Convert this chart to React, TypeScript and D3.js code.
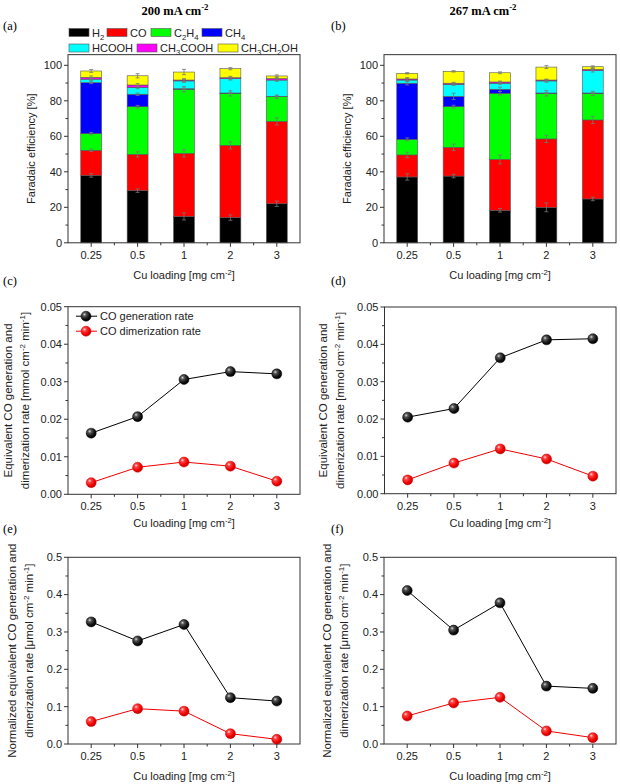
import React from "react";
import * as d3 from "d3";

const W = 620;
const H = 784;
const SANS = "'Liberation Sans', Arial, sans-serif";
const SERIF = "'Liberation Serif', 'Times New Roman', serif";

const categories = ["0.25", "0.5", "1", "2", "3"];
const productKeys = ["H2", "CO", "C2H4", "CH4", "HCOOH", "CH3COOH", "CH3CH2OH"];
const productLabels = ["H_2", "CO", "C_2H_4", "CH_4", "HCOOH", "CH_3COOH", "CH_3CH_2OH"];
const productColors = ["#000000", "#ff0000", "#00ff00", "#0000ff", "#00ffff", "#ff00ff", "#ffff00"];

// (a) 200 mA cm-2 : Faradaic efficiency [%] per product
const aH2 = [38.0, 29.4, 14.9, 14.2, 22.0];
const aCO = [14.1, 20.4, 35.5, 40.7, 46.4];
const aC2H4 = [9.4, 26.9, 36.1, 29.3, 13.9];
const aCH4 = [28.7, 7.0, 0.3, 0.2, 0.2];
const aHCOOH = [2.0, 3.9, 4.4, 8.1, 9.2];
const aCH3COOH = [1.0, 1.3, 0.5, 0.5, 0.8];
const aEtOH = [3.6, 5.2, 4.5, 5.1, 1.5];
const aErr = [
  [1.0, 1.0, 2.0, 1.5, 1.5],
  [0.7, 1.5, 2.0, 2.0, 2.0],
  [0.7, 0.7, 1.5, 1.5, 1.0],
  [0.5, 0.7, 0.3, 0.3, 0.3],
  [0.8, 0.8, 0.8, 0.8, 0.8],
  [0.8, 0.8, 0.8, 0.8, 0.8],
  [0.8, 1.2, 1.5, 0.6, 0.6],
];

// (b) 267 mA cm-2
const bH2 = [37.1, 37.6, 18.3, 20.0, 24.7];
const bCO = [12.4, 16.2, 28.7, 38.5, 44.5];
const bC2H4 = [8.8, 22.9, 37.2, 25.7, 15.0];
const bCH4 = [31.6, 5.8, 2.3, 0.2, 0.2];
const bHCOOH = [1.8, 6.8, 3.4, 6.8, 12.6];
const bCH3COOH = [0.6, 0.6, 0.7, 0.5, 0.7];
const bEtOH = [3.2, 6.7, 5.2, 7.3, 1.5];
const bErr = [
  [1.8, 1.0, 1.0, 2.5, 1.0],
  [1.5, 1.8, 2.5, 2.0, 2.0],
  [0.8, 0.8, 1.0, 1.5, 1.2],
  [1.0, 1.8, 1.2, 0.3, 0.3],
  [0.8, 0.6, 0.6, 0.8, 0.8],
  [0.8, 0.5, 0.5, 0.5, 0.5],
  [0.4, 0.4, 0.5, 0.8, 0.5],
];

// (c)/(d) equivalent CO generation / dimerization rate [mmol cm-2 min-1]
const cGen = [0.0163, 0.0207, 0.0306, 0.0327, 0.0321];
const cDim = [0.0031, 0.0072, 0.0086, 0.0075, 0.0035];
const dGen = [0.0205, 0.0228, 0.0364, 0.0412, 0.0415];
const dDim = [0.0037, 0.0082, 0.0120, 0.0093, 0.0047];

// (e)/(f) normalized rates [µmol cm-2 min-1]
const eGen = [0.327, 0.276, 0.320, 0.124, 0.115];
const eDim = [0.060, 0.0946, 0.088, 0.0277, 0.0125];
const fGen = [0.411, 0.305, 0.378, 0.155, 0.149];
const fDim = [0.075, 0.110, 0.125, 0.035, 0.017];

type Tok = { t: string; k: "n" | "sub" | "sup" };
function parseRich(s: string): Tok[] {
  const out: Tok[] = [];
  let buf = "";
  let i = 0;
  while (i < s.length) {
    const c = s[i];
    if (c === "_" || c === "^") {
      if (buf) { out.push({ t: buf, k: "n" }); buf = ""; }
      let g = "";
      if (s[i + 1] === "{") {
        const j = s.indexOf("}", i + 2);
        g = s.slice(i + 2, j);
        i = j + 1;
      } else {
        g = s[i + 1];
        i += 2;
      }
      out.push({ t: g, k: c === "_" ? "sub" : "sup" });
    } else {
      buf += c;
      i++;
    }
  }
  if (buf) out.push({ t: buf, k: "n" });
  return out;
}

function Rich({ s, fs }: { s: string; fs: number }) {
  const toks = parseRich(s);
  let cur = 0;
  return (
    <>
      {toks.map((tk, i) => {
        const target = tk.k === "sub" ? fs * 0.3 : tk.k === "sup" ? -fs * 0.38 : 0;
        const dy = target - cur;
        cur = target;
        return (
          <tspan key={i} dy={dy} fontSize={tk.k === "n" ? fs : fs * 0.7}>
            {tk.t}
          </tspan>
        );
      })}
    </>
  );
}

const AXIS = "#333";
const TXT = "#222";

function xScaleFor(x0: number, x1: number) {
  return d3.scalePoint<string>().domain(categories).range([x0, x1]).padding(0.5);
}

function XAxis({ x, yAxis }: { x: d3.ScalePoint<string>; yAxis: number }) {
  const step = x.step();
  const minors = categories.slice(0, -1).map((c) => (x(c) as number) + step / 2);
  return (
    <g>
      {categories.map((c) => (
        <g key={c}>
          <line x1={x(c)} x2={x(c)} y1={yAxis} y2={yAxis + 4} stroke={AXIS} />
          <text x={x(c)} y={yAxis + 16} textAnchor="middle" fontSize={11} fill={TXT} fontFamily={SANS}>
            {c}
          </text>
        </g>
      ))}
      {minors.map((m, i) => (
        <line key={i} x1={m} x2={m} y1={yAxis} y2={yAxis + 2.5} stroke={AXIS} />
      ))}
    </g>
  );
}

function YAxis({ y, xAxis, fmt, minors }: { y: d3.ScaleLinear<number, number>; xAxis: number; fmt: (v: number) => string; minors: number[] }) {
  return (
    <g>
      {y.ticks(5).map((t) => (
        <g key={t}>
          <line x1={xAxis - 4} x2={xAxis} y1={y(t)} y2={y(t)} stroke={AXIS} />
          <text x={xAxis - 6} y={y(t)} dy="0.35em" textAnchor="end" fontSize={11} fill={TXT} fontFamily={SANS}>
            {fmt(t)}
          </text>
        </g>
      ))}
      {minors.map((m) => (
        <line key={m} x1={xAxis - 2.5} x2={xAxis} y1={y(m)} y2={y(m)} stroke={AXIS} />
      ))}
    </g>
  );
}

function BarPanel({ x0, x1, series, errs, ylabX }: { x0: number; x1: number; series: number[][]; errs: number[][]; ylabX: number }) {
  const x = xScaleFor(x0, x1);
  const y = d3.scaleLinear().domain([0, 100]).range([242.8, 65.3]);
  const yTop = y(106);
  const table = categories.map((c, i) => {
    const row: any = { cat: c };
    productKeys.forEach((k, j) => (row[k] = series[j][i]));
    return row;
  });
  const stacked = d3.stack<any>().keys(productKeys)(table);
  const bw = x.step() * 0.45;
  return (
    <g>
      {stacked.map((layer, j) => (
        <g key={layer.key}>
          {layer.map((d, i) => (
            <rect
              key={i}
              x={(x(categories[i]) as number) - bw / 2}
              y={y(d[1])}
              width={bw}
              height={Math.max(0, y(d[0]) - y(d[1]))}
              fill={productColors[j]}
              stroke="#555"
              strokeWidth={0.6}
            />
          ))}
        </g>
      ))}
      {stacked.map((layer, j) => (
        <g key={"e" + layer.key}>
          {layer.map((d, i) => {
            const cx = x(categories[i]) as number;
            const e = errs[j][i];
            const ya = y(d[1] - e);
            const yb = y(d[1] + e);
            return (
              <g key={i} stroke="#777" strokeWidth={0.8}>
                <line x1={cx} x2={cx} y1={ya} y2={yb} />
                <line x1={cx - 2} x2={cx + 2} y1={ya} y2={ya} />
                <line x1={cx - 2} x2={cx + 2} y1={yb} y2={yb} />
              </g>
            );
          })}
        </g>
      ))}
      <rect x={x0} y={yTop} width={x1 - x0} height={y(0) - yTop} fill="none" stroke={AXIS} strokeWidth={1} />
      <XAxis x={x} yAxis={y(0)} />
      <YAxis y={y} xAxis={x0} fmt={d3.format("d")} minors={d3.range(10, 100, 20)} />
      <text transform={`translate(${ylabX},${(y(0) + yTop) / 2}) rotate(-90)`} textAnchor="middle" dy="0.35em" fontSize={11} fill={TXT} fontFamily={SANS}>
        Faradaic efficiency [%]
      </text>
      <text x={(x0 + x1) / 2} y={279} textAnchor="middle" fontSize={11} fill={TXT} fontFamily={SANS}>
        <Rich s="Cu loading [mg cm^{-2}]" fs={11} />
      </text>
    </g>
  );
}

function Sphere({ cx, cy, fill }: { cx: number; cy: number; fill: string }) {
  return <circle cx={cx} cy={cy} r={5} fill={`url(#${fill})`} stroke={fill === "gBlack" ? "#000" : "#c00"} strokeWidth={0.5} />;
}

function LinePanel({
  x0, x1, yTop, yZero, yMax, gen, dim, fmt, minorStep, ylab1, ylab2, labX1, labX2, xlabY, legend,
}: {
  x0: number; x1: number; yTop: number; yZero: number; yMax: number; gen: number[]; dim: number[];
  fmt: (v: number) => string; minorStep: number; ylab1: string; ylab2: string; labX1: number; labX2: number; xlabY: number; legend?: boolean;
}) {
  const x = xScaleFor(x0, x1);
  const y = d3.scaleLinear().domain([0, yMax]).range([yZero, yTop]);
  const line = d3.line<number>().x((_, i) => x(categories[i]) as number).y((v) => y(v));
  const minors = d3.range(minorStep, yMax, minorStep * 2);
  const cy = (yZero + yTop) / 2;
  return (
    <g>
      <rect x={x0} y={yTop} width={x1 - x0} height={yZero - yTop} fill="none" stroke={AXIS} strokeWidth={1} />
      <path d={line(gen) as string} fill="none" stroke="#000" strokeWidth={1} />
      <path d={line(dim) as string} fill="none" stroke="#e00" strokeWidth={1} />
      {gen.map((v, i) => <Sphere key={"g" + i} cx={x(categories[i]) as number} cy={y(v)} fill="gBlack" />)}
      {dim.map((v, i) => <Sphere key={"d" + i} cx={x(categories[i]) as number} cy={y(v)} fill="gRed" />)}
      <XAxis x={x} yAxis={yZero} />
      <YAxis y={y} xAxis={x0} fmt={fmt} minors={minors} />
      <text transform={`translate(${labX1},${cy}) rotate(-90)`} textAnchor="middle" dy="0.35em" fontSize={11.5} fill={TXT} fontFamily={SANS}>
        <Rich s={ylab1} fs={11.5} />
      </text>
      <text transform={`translate(${labX2},${cy}) rotate(-90)`} textAnchor="middle" dy="0.35em" fontSize={11.5} fill={TXT} fontFamily={SANS}>
        <Rich s={ylab2} fs={11.5} />
      </text>
      <text x={(x0 + x1) / 2} y={xlabY} textAnchor="middle" fontSize={11} fill={TXT} fontFamily={SANS}>
        <Rich s="Cu loading [mg cm^{-2}]" fs={11} />
      </text>
      {legend && (
        <g fontFamily={SANS} fontSize={11} fill={TXT}>
          <line x1={x0 + 8} x2={x0 + 29} y1={yTop + 9.5} y2={yTop + 9.5} stroke="#000" />
          <Sphere cx={x0 + 18} cy={yTop + 9.5} fill="gBlack" />
          <text x={x0 + 32} y={yTop + 9.5} dy="0.35em">CO generation rate</text>
          <line x1={x0 + 8} x2={x0 + 29} y1={yTop + 24.5} y2={yTop + 24.5} stroke="#e00" />
          <Sphere cx={x0 + 18} cy={yTop + 24.5} fill="gRed" />
          <text x={x0 + 32} y={yTop + 24.5} dy="0.35em">CO dimerization rate</text>
        </g>
      )}
    </g>
  );
}

const legendRow1 = [0, 1, 2, 3];
const legendRow2 = [4, 5, 6];
const legendX1 = [69, 107, 151, 202];
const legendX2 = [69, 137, 218];

export default function App() {
  const aSeries = [aH2, aCO, aC2H4, aCH4, aHCOOH, aCH3COOH, aEtOH];
  const bSeries = [bH2, bCO, bC2H4, bCH4, bHCOOH, bCH3COOH, bEtOH];
  const f2 = d3.format(".2f");
  const f1 = d3.format(".1f");
  return (
    <svg width={W} height={H} style={{ position: "absolute", left: 0, top: 0, background: "#fff" }}>
      <defs>
        <radialGradient id="gBlack" cx="35%" cy="32%" r="70%">
          <stop offset="0%" stopColor="#d8d8d8" />
          <stop offset="25%" stopColor="#555" />
          <stop offset="70%" stopColor="#111" />
          <stop offset="100%" stopColor="#000" />
        </radialGradient>
        <radialGradient id="gRed" cx="35%" cy="32%" r="70%">
          <stop offset="0%" stopColor="#ffe0e0" />
          <stop offset="25%" stopColor="#ff4040" />
          <stop offset="70%" stopColor="#f00000" />
          <stop offset="100%" stopColor="#c00000" />
        </radialGradient>
      </defs>
      <rect width={W} height={H} fill="#fff" />

      {/* titles */}
      <text x={175} y={15} textAnchor="middle" fontFamily={SERIF} fontWeight="bold" fontSize={12.5} fill="#000">
        <Rich s="200 mA cm^{-2}" fs={12.5} />
      </text>
      <text x={483} y={15} textAnchor="middle" fontFamily={SERIF} fontWeight="bold" fontSize={12.5} fill="#000">
        <Rich s="267 mA cm^{-2}" fs={12.5} />
      </text>

      {/* panel letters */}
      {[
        ["(a)", 3, 30], ["(b)", 331, 30], ["(c)", 3, 285], ["(d)", 331, 285], ["(e)", 3, 533], ["(f)", 331, 533],
      ].map(([t, px, py]) => (
        <text key={t as string} x={px as number} y={py as number} fontFamily={SERIF} fontSize={12.5} fill="#000">
          {t}
        </text>
      ))}

      {/* legend (a) */}
      <g fontFamily={SANS} fontSize={11} fill={TXT}>
        {legendRow1.map((k, i) => (
          <g key={k}>
            <rect x={legendX1[i]} y={28.5} width={20} height={8} fill={productColors[k]} stroke="#555" strokeWidth={0.6} />
            <text x={legendX1[i] + 23} y={36.5}>
              <Rich s={productLabels[k]} fs={11} />
            </text>
          </g>
        ))}
        {legendRow2.map((k, i) => (
          <g key={k}>
            <rect x={legendX2[i]} y={44} width={20} height={8} fill={productColors[k]} stroke="#555" strokeWidth={0.6} />
            <text x={legendX2[i] + 23} y={52}>
              <Rich s={productLabels[k]} fs={11} />
            </text>
          </g>
        ))}
      </g>

      <BarPanel x0={68} x1={300} series={aSeries} errs={aErr} ylabX={31} />
      <BarPanel x0={384} x1={616} series={bSeries} errs={bErr} ylabX={347} />

      <LinePanel
        x0={68} x1={300} yTop={306.7} yZero={494.3} yMax={0.05} gen={cGen} dim={cDim} fmt={f2} minorStep={0.005}
        ylab1="Equivalent CO generation and" ylab2="dimerization rate [mmol cm^{-2} min^{-1}]" labX1={12} labX2={29} xlabY={527} legend
      />
      <LinePanel
        x0={384.5} x1={616} yTop={307} yZero={493.7} yMax={0.05} gen={dGen} dim={dDim} fmt={f2} minorStep={0.005}
        ylab1="Equivalent CO generation and" ylab2="dimerization rate [mmol cm^{-2} min^{-1}]" labX1={327} labX2={344} xlabY={527}
      />
      <LinePanel
        x0={68} x1={300} yTop={557.3} yZero={744} yMax={0.5} gen={eGen} dim={eDim} fmt={f1} minorStep={0.05}
        ylab1="Normalized equivalent CO generation and" ylab2="dimerization rate [μmol cm^{-2} min^{-1}]" labX1={16} labX2={33} xlabY={780}
      />
      <LinePanel
        x0={384} x1={616} yTop={557.3} yZero={744} yMax={0.5} gen={fGen} dim={fDim} fmt={f1} minorStep={0.05}
        ylab1="Normalized equivalent CO generation and" ylab2="dimerization rate [μmol cm^{-2} min^{-1}]" labX1={331} labX2={348} xlabY={780}
      />
    </svg>
  );
}
